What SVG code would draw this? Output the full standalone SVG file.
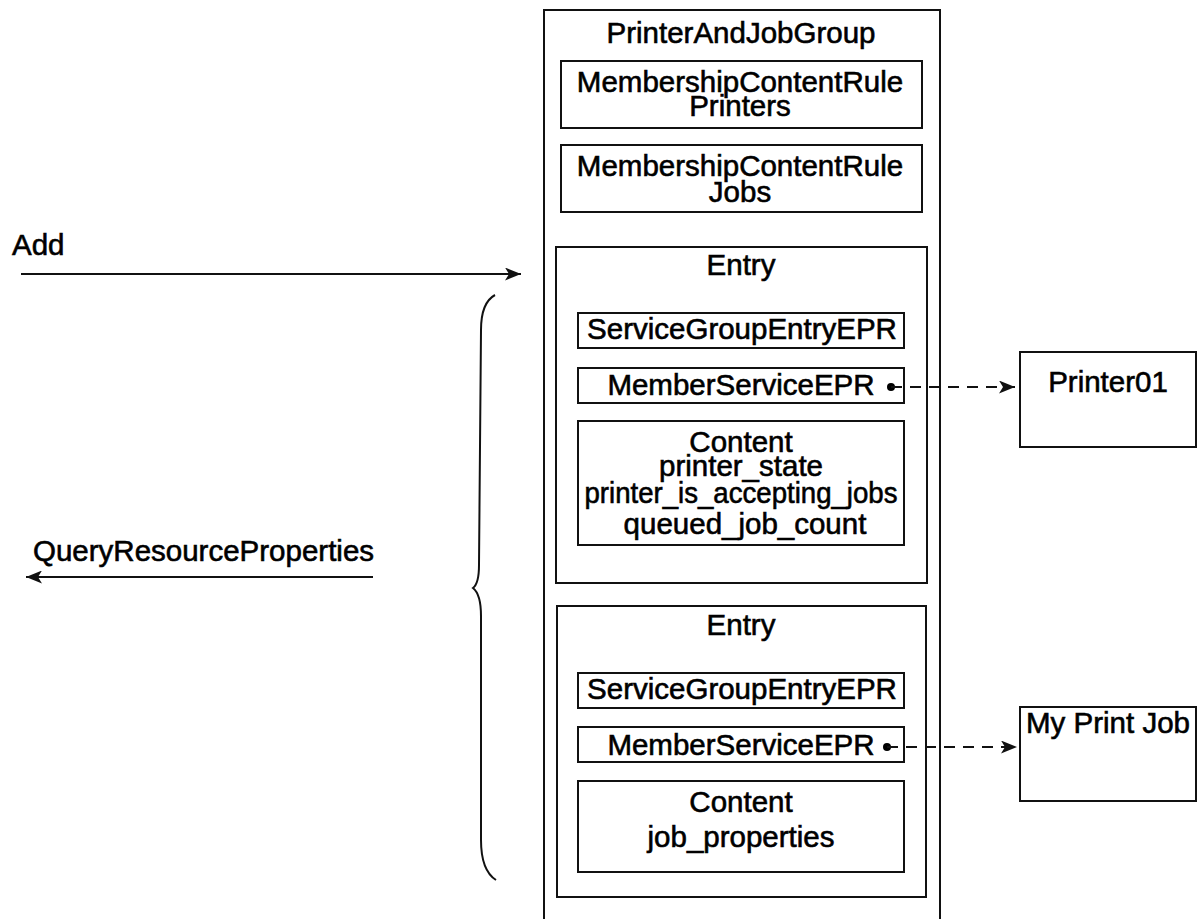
<svg xmlns="http://www.w3.org/2000/svg" width="1197" height="919" viewBox="0 0 1197 919">
<style>
  .box { fill: none; stroke: #111; stroke-width: 2; }
  text { font-family: "Liberation Sans", Arial, sans-serif; font-size: 29.5px; fill: #000; stroke: #000; stroke-width: 0.6; }
  .c { text-anchor: middle; }
  .line { fill: none; stroke: #111; stroke-width: 2; }
  .dash { fill: none; stroke: #111; stroke-width: 2; stroke-dasharray: 11 8; }
</style>
<defs>
  <marker id="arrow" viewBox="0 0 16 13" refX="16" refY="6.5" markerWidth="16" markerHeight="13" markerUnits="userSpaceOnUse" orient="auto">
    <path d="M0,0 L16,6.5 L0,13 L4,6.5 Z" fill="#111"/>
  </marker>
</defs>
<rect width="1197" height="919" fill="#fff"/>

<g id="group">
  <rect class="box" x="544" y="10" width="396" height="930"/>
  <text class="c" x="741" y="43">PrinterAndJobGroup</text>
</g>
<g id="rule-printers">
  <rect class="box" x="561" y="61" width="361" height="67"/>
  <text class="c" x="740" y="92">MembershipContentRule</text>
  <text class="c" x="740" y="116">Printers</text>
</g>
<g id="rule-jobs">
  <rect class="box" x="561" y="145" width="361" height="67"/>
  <text class="c" x="740" y="176">MembershipContentRule</text>
  <text class="c" x="740" y="202">Jobs</text>
</g>

<g id="entry1">
  <rect class="box" x="556" y="247" width="371" height="336"/>
  <text class="c" x="741" y="275">Entry</text>
</g>
<g id="sge1">
  <rect class="box" x="578" y="313" width="326" height="35"/>
  <text class="c" x="742" y="339">ServiceGroupEntryEPR</text>
</g>
<g id="mse1">
  <rect class="box" x="578" y="368" width="326" height="35"/>
  <text class="c" x="741" y="395">MemberServiceEPR</text>
</g>
<g id="content1">
  <rect class="box" x="578" y="421" width="326" height="124"/>
  <text class="c" x="741" y="452">Content</text>
  <text class="c" x="741" y="476">printer_state</text>
  <text class="c" x="741" y="503" textLength="313" lengthAdjust="spacingAndGlyphs">printer_is_accepting_jobs</text>
  <text class="c" x="745" y="534">queued_job_count</text>
</g>

<g id="entry2">
  <rect class="box" x="557" y="606" width="369" height="291"/>
  <text class="c" x="741" y="635">Entry</text>
</g>
<g id="sge2">
  <rect class="box" x="578" y="673" width="326" height="35"/>
  <text class="c" x="742" y="699">ServiceGroupEntryEPR</text>
</g>
<g id="mse2">
  <rect class="box" x="578" y="727" width="326" height="35"/>
  <text class="c" x="741" y="755">MemberServiceEPR</text>
</g>
<g id="content2">
  <rect class="box" x="578" y="781" width="326" height="91"/>
  <text class="c" x="741" y="812">Content</text>
  <text class="c" x="741" y="847">job_properties</text>
</g>

<g id="printer01">
  <rect class="box" x="1020" y="352" width="176" height="95"/>
  <text class="c" x="1108" y="392">Printer01</text>
</g>
<g id="myprintjob">
  <rect class="box" x="1020" y="707" width="176" height="94"/>
  <text class="c" x="1108" y="733">My Print Job</text>
</g>

<g id="labels">
  <text x="12" y="255">Add</text>
  <text x="33" y="561">QueryResourceProperties</text>
</g>

<g id="connectors">
  <line class="line" x1="21" y1="274" x2="521" y2="274" marker-end="url(#arrow)"/>
  <line class="line" x1="373" y1="577" x2="26" y2="577" marker-end="url(#arrow)"/>
  <path class="line" d="M495,295 C484,301 481,314 481,330 L479,565 C479,578 477,585 473,588 C478,592 481,602 481,616 L481,840 C481,860 485,873 496,880"/>
  <circle cx="891" cy="387" r="4" fill="#000"/>
  <line class="dash" x1="891" y1="387" x2="1015" y2="387" marker-end="url(#arrow)"/>
  <circle cx="887" cy="747" r="4" fill="#000"/>
  <line class="dash" x1="887" y1="747" x2="1017" y2="747" marker-end="url(#arrow)"/>
</g>
</svg>
